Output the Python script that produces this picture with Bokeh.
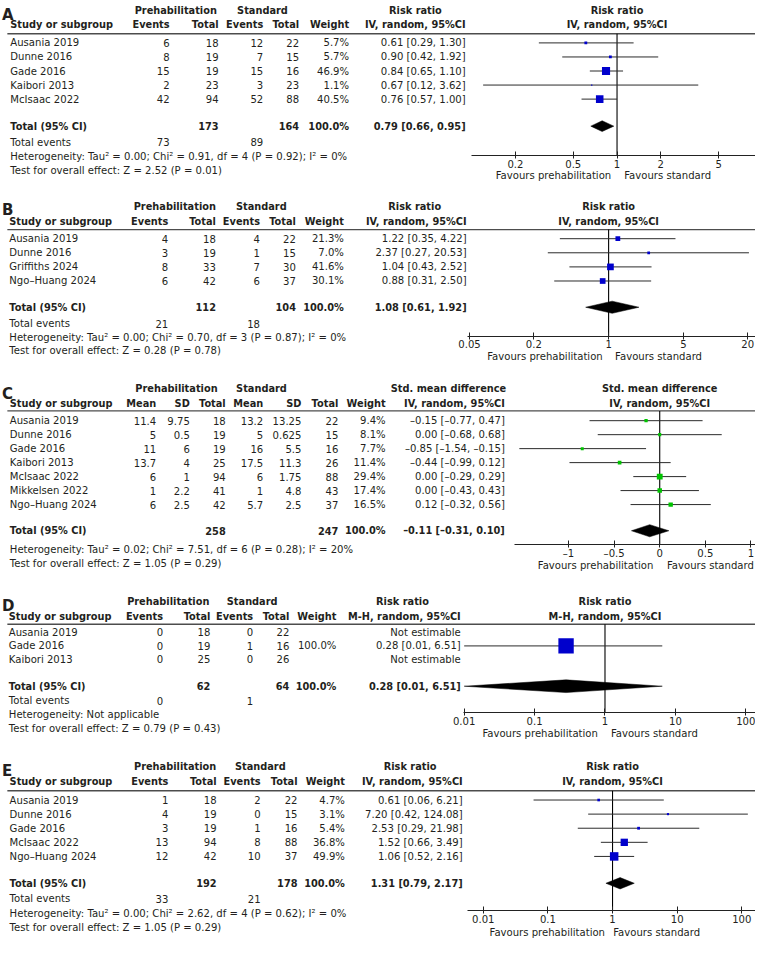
import math
from bokeh.plotting import figure
from bokeh.models import (ColumnDataSource, Range1d, LogScale, LinearScale, LogAxis,
                          LinearAxis, FixedTicker)
from bokeh.layouts import column
from bokeh.embed import file_html
from bokeh.resources import INLINE
from bokeh.core.properties import value

NAN = float("nan")

# ---------------- Panel A ----------------
A_study = ["Ausania 2019", "Dunne 2016", "Gade 2016", "Kaibori 2013", "McIsaac 2022"]
A_pre_events = [6, 8, 15, 2, 42]
A_pre_total = [18, 19, 19, 23, 94]
A_std_events = [12, 7, 15, 3, 52]
A_std_total = [22, 15, 16, 23, 88]
A_weight = [5.7, 5.7, 46.9, 1.1, 40.5]
A_rr = [0.61, 0.90, 0.84, 0.67, 0.76]
A_lo = [0.29, 0.42, 0.65, 0.12, 0.57]
A_hi = [1.30, 1.92, 1.10, 3.62, 1.00]
A_sum_total = [173, 164]
A_sum_events = [73, 89]
A_pooled = [0.79, 0.66, 0.95]
A_het = "Heterogeneity: Tau² = 0.00; Chi² = 0.91, df = 4 (P = 0.92); I² = 0%"
A_test = "Test for overall effect: Z = 2.52 (P = 0.01)"
A_ticks = [0.2, 0.5, 1, 2, 5]
A_tick_labels = ["0.2", "0.5", "1", "2", "5"]

# ---------------- Panel B ----------------
B_study = ["Ausania 2019", "Dunne 2016", "Griffiths 2024", "Ngo–Huang 2024"]
B_pre_events = [4, 3, 8, 6]
B_pre_total = [18, 19, 33, 42]
B_std_events = [4, 1, 7, 6]
B_std_total = [22, 15, 30, 37]
B_weight = [21.3, 7.0, 41.6, 30.1]
B_rr = [1.22, 2.37, 1.04, 0.88]
B_lo = [0.35, 0.27, 0.43, 0.31]
B_hi = [4.22, 20.53, 2.52, 2.50]
B_sum_total = [112, 104]
B_sum_events = [21, 18]
B_pooled = [1.08, 0.61, 1.92]
B_het = "Heterogeneity: Tau² = 0.00; Chi² = 0.70, df = 3 (P = 0.87); I² = 0%"
B_test = "Test for overall effect: Z = 0.28 (P = 0.78)"
B_ticks = [0.05, 0.2, 1, 5, 20]
B_tick_labels = ["0.05", "0.2", "1", "5", "20"]

# ---------------- Panel C ----------------
C_study = ["Ausania 2019", "Dunne 2016", "Gade 2016", "Kaibori 2013",
           "McIsaac 2022", "Mikkelsen 2022", "Ngo–Huang 2024"]
C_pre_mean = [11.4, 5, 11, 13.7, 6, 1, 6]
C_pre_sd = [9.75, 0.5, 6, 4, 1, 2.2, 2.5]
C_pre_total = [18, 19, 19, 25, 94, 41, 42]
C_std_mean = [13.2, 5, 16, 17.5, 6, 1, 5.7]
C_std_sd = [13.25, 0.625, 5.5, 11.3, 1.75, 4.8, 2.5]
C_std_total = [22, 15, 16, 26, 88, 43, 37]
C_weight = [9.4, 8.1, 7.7, 11.4, 29.4, 17.4, 16.5]
C_smd = [-0.15, 0.00, -0.85, -0.44, 0.00, 0.00, 0.12]
C_lo = [-0.77, -0.68, -1.54, -0.99, -0.29, -0.43, -0.32]
C_hi = [0.47, 0.68, -0.15, 0.12, 0.29, 0.43, 0.56]
C_sum_total = [258, 247]
C_pooled = [-0.11, -0.31, 0.10]
C_het = "Heterogeneity: Tau² = 0.02; Chi² = 7.51, df = 6 (P = 0.28); I² = 20%"
C_test = "Test for overall effect: Z = 1.05 (P = 0.29)"
C_ticks = [-1, -0.5, 0, 0.5, 1]
C_tick_labels = ["–1", "–0.5", "0", "0.5", "1"]

# ---------------- Panel D ----------------
D_study = ["Ausania 2019", "Gade 2016", "Kaibori 2013"]
D_pre_events = [0, 0, 0]
D_pre_total = [18, 19, 25]
D_std_events = [0, 1, 0]
D_std_total = [22, 16, 26]
D_weight = [NAN, 100.0, NAN]
D_rr = [NAN, 0.28, NAN]
D_lo = [NAN, 0.01, NAN]
D_hi = [NAN, 6.51, NAN]
D_sum_total = [62, 64]
D_sum_events = [0, 1]
D_pooled = [0.28, 0.01, 6.51]
D_het = "Heterogeneity: Not applicable"
D_test = "Test for overall effect: Z = 0.79 (P = 0.43)"
D_ticks = [0.01, 0.1, 1, 10, 100]
D_tick_labels = ["0.01", "0.1", "1", "10", "100"]

# ---------------- Panel E ----------------
E_study = ["Ausania 2019", "Dunne 2016", "Gade 2016", "McIsaac 2022", "Ngo–Huang 2024"]
E_pre_events = [1, 4, 3, 13, 12]
E_pre_total = [18, 19, 19, 94, 42]
E_std_events = [2, 0, 1, 8, 10]
E_std_total = [22, 15, 16, 88, 37]
E_weight = [4.7, 3.1, 5.4, 36.8, 49.9]
E_rr = [0.61, 7.20, 2.53, 1.52, 1.06]
E_lo = [0.06, 0.42, 0.29, 0.66, 0.52]
E_hi = [6.21, 124.08, 21.98, 3.49, 2.16]
E_sum_total = [192, 178]
E_sum_events = [33, 21]
E_pooled = [1.31, 0.79, 2.17]
E_het = "Heterogeneity: Tau² = 0.00; Chi² = 2.62, df = 4 (P = 0.62); I² = 0%"
E_test = "Test for overall effect: Z = 1.05 (P = 0.29)"
E_ticks = [0.01, 0.1, 1, 10, 100]
E_tick_labels = ["0.01", "0.1", "1", "10", "100"]

# ---------------- styling / layout ----------------
REF_W = 771.0
W = 755
S = W / REF_W
FONT = "DejaVu Sans"
FS = f"{10.3 * S:.2f}px"
FSB = f"{10.0 * S:.2f}px"
FSL = "15px"
TXT = "#231f20"
CI_COLOR = "#2b2b2b"
BLUE = "#0000cc"
GREEN = "#00c400"


def f2(v):
    return f"{v:.2f}".replace("-", "–")


def ci_text(e, l, h):
    if math.isnan(e):
        return "Not estimable"
    return f"{f2(e)} [{f2(l)}, {f2(h)}]"


def wt_text(w):
    return "" if math.isnan(w) else f"{w:.1f}%"


def g(v):
    return f"{v:g}"


def events_spec(study, pe, pt, se, st, w, est, lo, hi, tot, tev, pooled, het, test,
                ticks, tlabels, h1, h2, color):
    cols = [[str(v) for v in pe], [str(v) for v in pt], [str(v) for v in se],
            [str(v) for v in st], [wt_text(v) for v in w],
            [ci_text(a, b, c) for a, b, c in zip(est, lo, hi)]]
    return dict(study=study, cols=cols,
                heads=["Events", "Total", "Events", "Total", "Weight", h2],
                total=[(1, str(tot[0])), (3, str(tot[1])), (4, "100.0%"), (5, ci_text(*pooled))],
                events=[(0, str(tev[0])), (2, str(tev[1]))],
                weight=w, est=est, lo=lo, hi=hi, pooled=pooled, het=het, test=test,
                ticks=ticks, tlabels=tlabels, h1=h1, h2=h2, log=True, null=1.0, color=color)


SPEC = {
    "A": events_spec(A_study, A_pre_events, A_pre_total, A_std_events, A_std_total, A_weight,
                     A_rr, A_lo, A_hi, A_sum_total, A_sum_events, A_pooled, A_het, A_test,
                     A_ticks, A_tick_labels, "Risk ratio", "IV, random, 95%CI", BLUE),
    "B": events_spec(B_study, B_pre_events, B_pre_total, B_std_events, B_std_total, B_weight,
                     B_rr, B_lo, B_hi, B_sum_total, B_sum_events, B_pooled, B_het, B_test,
                     B_ticks, B_tick_labels, "Risk ratio", "IV, random, 95%CI", BLUE),
    "C": dict(study=C_study,
              cols=[[g(v) for v in C_pre_mean], [g(v) for v in C_pre_sd], [str(v) for v in C_pre_total],
                    [g(v) for v in C_std_mean], [g(v) for v in C_std_sd], [str(v) for v in C_std_total],
                    [wt_text(v) for v in C_weight],
                    [ci_text(a, b, c) for a, b, c in zip(C_smd, C_lo, C_hi)]],
              heads=["Mean", "SD", "Total", "Mean", "SD", "Total", "Weight", "IV, random, 95%CI"],
              total=[(2, str(C_sum_total[0])), (5, str(C_sum_total[1])), (6, "100.0%"),
                     (7, ci_text(*C_pooled))],
              events=None, weight=C_weight, est=C_smd, lo=C_lo, hi=C_hi, pooled=C_pooled,
              het=C_het, test=C_test, ticks=C_ticks, tlabels=C_tick_labels,
              h1="Std. mean difference", h2="IV, random, 95%CI", log=False, null=0.0, color=GREEN),
    "D": events_spec(D_study, D_pre_events, D_pre_total, D_std_events, D_std_total, D_weight,
                     D_rr, D_lo, D_hi, D_sum_total, D_sum_events, D_pooled, D_het, D_test,
                     D_ticks, D_tick_labels, "Risk ratio", "M-H, random, 95%CI", BLUE),
    "E": events_spec(E_study, E_pre_events, E_pre_total, E_std_events, E_std_total, E_weight,
                     E_rr, E_lo, E_hi, E_sum_total, E_sum_events, E_pooled, E_het, E_test,
                     E_ticks, E_tick_labels, "Risk ratio", "IV, random, 95%CI", BLUE),
}

# layout in reference-pixel units
LAYOUT = {
    "A": dict(top=0, bottom=190, h1=10, h2=25, line=34, row0=43.3, step=14.35, total_y=128.3,
              events_y=145, het_y=159.3, test_y=173.3, axis_y=158.3, fav_y=178.3, letter_y=14.6,
              study_x=10, cols=[172.7, 222.7, 268.3, 305, 356, 475], grp=[179, 267.5], ci_c=423.7,
              null_px=629.6, ppd=148.5, frame_left=481.3, fav_gap=13.3, fav_shift=0.7, dh=5.5, k=1.21),
    "B": dict(top=190, bottom=375, h1=210.7, h2=225.7, line=234, row0=243.3, step=14.4, total_y=313.3,
              events_y=330, het_y=344.3, test_y=357.3, axis_y=342.7, fav_y=363.3, letter_y=214,
              study_x=9, cols=[171.3, 220, 265, 301.7, 350.7, 476], grp=[178, 266.3], ci_c=423,
              null_px=621, ppd=109.2, frame_left=477, fav_gap=12.7, fav_shift=0.3, dh=6.2, k=1.06),
    "C": dict(top=375, bottom=590, h1=396.7, h2=412, line=419.3, row0=429.3, step=14.28, total_y=541.7,
              events_y=None, het_y=560.5, test_y=575, axis_y=555.7, fav_y=576.7, letter_y=402.3,
              study_x=9.5, cols=[159, 193.3, 230, 268.3, 307.3, 345, 393.3, 515], grp=[179.7, 266.5],
              ci_c=457.5, null_px=673.2, ppd=93.1, frame_left=525, fav_gap=14, fav_shift=0.4, dh=6.2, k=1.1),
    "D": dict(top=590, bottom=760, h1=613.3, h2=628.3, line=636.7, row0=645, step=13.85, total_y=700,
              events_y=715, het_y=729.3, test_y=743.3, axis_y=727.3, fav_y=748.3, letter_y=617.7,
              study_x=8.5, cols=[166, 214.3, 258, 295, 343, 470], grp=[171.3, 257], ci_c=410.5,
              null_px=617.3, ppd=71.9, frame_left=473, fav_gap=13.3, fav_shift=-0.6, dh=6.5, k=1.57),
    "E": dict(top=760, bottom=962, h1=782.7, h2=797.3, line=807.3, row0=816.7, step=14.4, total_y=901.7,
              events_y=917.3, het_y=932.3, test_y=946.7, axis_y=930, fav_y=951.7, letter_y=786.7,
              study_x=9.3, cols=[171.5, 220.7, 265.7, 303.3, 351.7, 472], grp=[178.3, 265.3], ci_c=418.3,
              null_px=625, ppd=66, frame_left=476.7, fav_gap=8.4, fav_shift=-3.5, dh=5.8, k=1.23),
}


def put(p, xs, ys, texts, align="left", bold=False, size=None, xr="default",
        baseline="middle", x_off=0.0):
    src = ColumnDataSource(dict(x=list(xs), y=list(ys), t=list(texts)))
    p.text(x="x", y="y", text="t", source=src, text_align=align, text_baseline=baseline,
           text_font=value(FONT), text_font_size=size or (FSB if bold else FS),
           text_font_style="bold" if bold else "normal", text_color=TXT, x_range_name=xr,
           x_offset=x_off)


def build(letter):
    P, L = SPEC[letter], LAYOUT[letter]
    top, bottom = L["top"], L["bottom"]
    fh = round((bottom - top) * S)
    p = figure(frame_width=W, frame_height=fh, x_range=Range1d(0, REF_W),
               y_range=Range1d(top + fh / S, top), title=None,
               output_backend="svg", toolbar_location=None,
               x_axis_location=None, y_axis_location=None,
               min_border_left=0, min_border_right=0, min_border_top=0,
               min_border_bottom=0, outline_line_color=None,
               background_fill_color="white", border_fill_color="white")
    p.grid.visible = False

    null = P["null"]
    if P["log"]:
        def fx(px):
            return 10 ** (math.log10(null) + (px - L["null_px"]) / L["ppd"])
        p.extra_x_scales = {"f": LogScale()}
        Axis = LogAxis
    else:
        def fx(px):
            return null + (px - L["null_px"]) / L["ppd"]
        p.extra_x_scales = {"f": LinearScale()}
        Axis = LinearAxis
    p.extra_x_ranges = {"f": Range1d(fx(0), fx(REF_W))}

    n = len(P["study"])
    ys = [L["row0"] + i * L["step"] for i in range(n)]
    cx = L["cols"]

    # panel letter
    put(p, [1.5], [L["letter_y"]], [letter], bold=True, size=FSL, baseline="alphabetic")

    # headers
    put(p, L["grp"], [L["h1"]] * 2, ["Prehabilitation", "Standard"], align="center", bold=True)
    put(p, [L["ci_c"]], [L["h1"]], [P["h1"]], align="center", bold=True)
    put(p, [L["study_x"]], [L["h2"]], ["Study or subgroup"], bold=True)
    put(p, cx, [L["h2"]] * len(cx), P["heads"], align="right", bold=True)
    put(p, [null, null], [L["h1"], L["h2"]], [P["h1"], P["h2"]], align="center", bold=True, xr="f")

    p.segment(x0=[7], y0=[L["line"]], x1=[REF_W], y1=[L["line"]], line_color="#4d4d4d",
              line_width=1.4)

    # study rows
    put(p, [L["study_x"]] * n, ys, P["study"])
    for j, colvals in enumerate(P["cols"]):
        put(p, [cx[j]] * n, ys, colvals, align="right")

    # total row
    put(p, [L["study_x"]], [L["total_y"]], ["Total (95% CI)"], bold=True)
    put(p, [cx[j] for j, _ in P["total"]], [L["total_y"]] * len(P["total"]),
        [t for _, t in P["total"]], align="right", bold=True)

    if P["events"]:
        put(p, [L["study_x"]], [L["events_y"]], ["Total events"])
        put(p, [cx[j] for j, _ in P["events"]], [L["events_y"]] * len(P["events"]),
            [t for _, t in P["events"]], align="right")

    put(p, [L["study_x"], L["study_x"]], [L["het_y"], L["test_y"]], [P["het"], P["test"]])

    # forest plot
    p.segment(x0=[null], y0=[L["line"]], x1=[null], y1=[L["axis_y"]], line_color="black",
              line_width=1.1, x_range_name="f")
    sizes = [L["k"] * math.sqrt(w) * S if not math.isnan(w) else 0 for w in P["weight"]]
    src = ColumnDataSource(dict(est=P["est"], lo=P["lo"], hi=P["hi"], y=ys, sz=sizes))
    p.segment(x0="lo", y0="y", x1="hi", y1="y", source=src, line_color=CI_COLOR,
              line_width=1.0, x_range_name="f")
    p.scatter(x="est", y="y", size="sz", marker="square", source=src, fill_color=P["color"],
              line_color=None, x_range_name="f")
    e, lo, hi = P["pooled"]
    ty, dh = L["total_y"], L["dh"]
    p.patches(xs=[[lo, e, hi, e]], ys=[[ty, ty - dh, ty, ty + dh]], fill_color="black",
              line_color="black", line_width=0.5, x_range_name="f")

    ax = Axis(x_range_name="f", ticker=FixedTicker(ticks=P["ticks"]),
              bounds=(fx(L["frame_left"]), fx(REF_W)), fixed_location=L["axis_y"],
              major_label_overrides=dict(zip(P["ticks"], P["tlabels"])))
    ax.axis_line_color = "#222222"
    ax.axis_line_width = 1.1
    ax.major_tick_line_color = "#222222"
    ax.major_tick_in = 4
    ax.major_tick_out = 3
    ax.minor_tick_line_color = None
    ax.major_label_standoff = 1
    ax.major_label_text_font = FONT
    ax.major_label_text_font_size = FS
    ax.major_label_text_color = TXT
    p.add_layout(ax, "below")

    half = L["fav_gap"] / 2 * S
    sh = L["fav_shift"] * S
    put(p, [null], [L["fav_y"]], ["Favours prehabilitation"], align="right", xr="f", x_off=-half + sh)
    put(p, [null], [L["fav_y"]], ["Favours standard"], align="left", xr="f", x_off=half + sh)
    return p


layout = column(*[build(k) for k in ["A", "B", "C", "D", "E"]], spacing=0)
open("out.html", "w").write(file_html(layout, INLINE))
